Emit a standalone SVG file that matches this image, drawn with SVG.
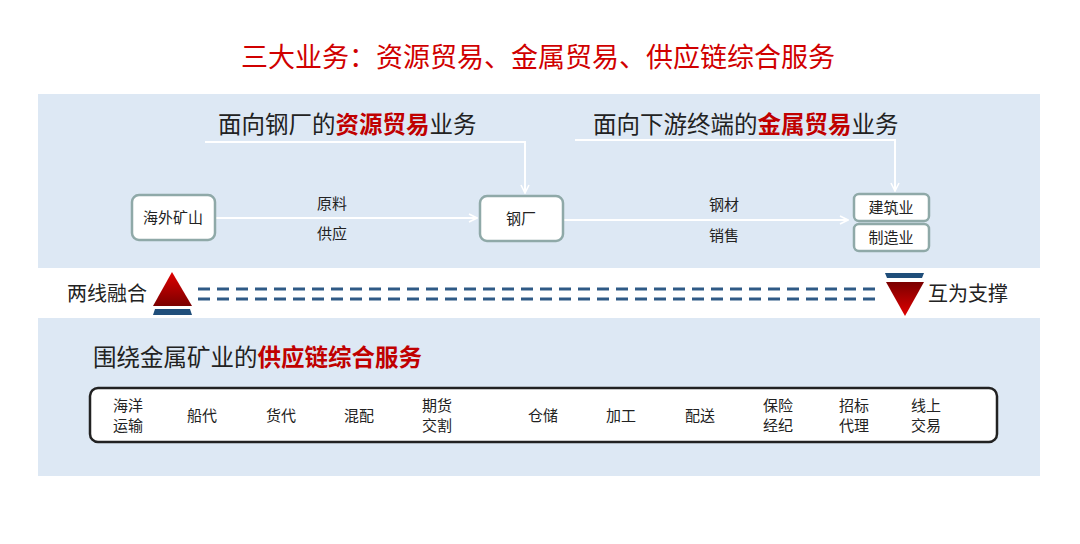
<svg xmlns="http://www.w3.org/2000/svg" width="1080" height="544" viewBox="0 0 1080 544">
<style>
text{font-family:"Liberation Sans","Noto Sans CJK SC",sans-serif;fill:#222}
.n{fill:#fff;stroke:#8fa9a8;stroke-width:2.5}
.s{font-size:15px;text-anchor:middle}
.h{font-size:23.5px}
.r{fill:#c00000;font-weight:bold}
.w{stroke:#fff;stroke-width:2;fill:none}
.d{stroke:#2f5a86;stroke-width:3;stroke-dasharray:12 7}
</style>
<defs>
<marker id="a" viewBox="0 0 10 10" refX="9" refY="5" markerWidth="10" markerHeight="10" markerUnits="userSpaceOnUse" orient="auto"><path d="M1,1L9,5L1,9" fill="none" stroke="#fff" stroke-width="1.6"/></marker>
<linearGradient id="gu" x1="0" y1="0" x2="0" y2="1"><stop offset="0" stop-color="#e00000"/><stop offset="1" stop-color="#7a0000"/></linearGradient>
<linearGradient id="gd" x1="0" y1="0" x2="0" y2="1"><stop offset="0" stop-color="#7a0000"/><stop offset="1" stop-color="#e00000"/></linearGradient>
</defs>
<rect width="1080" height="544" fill="#fff"/>
<text x="538" y="67" font-size="27" text-anchor="middle" style="fill:#d00000">三大业务：资源贸易、金属贸易、供应链综合服务</text>
<rect x="38" y="94" width="1002" height="174" fill="#dde8f4"/>
<rect x="38" y="318" width="1002" height="158" fill="#dde8f4"/>
<text x="218" y="133" class="h">面向钢厂的<tspan class="r">资源贸易</tspan>业务</text>
<text x="593" y="133" class="h">面向下游终端的<tspan class="r">金属贸易</tspan>业务</text>
<g id="connectors">
<path class="w" d="M205,142H525V193" marker-end="url(#a)"/>
<path class="w" d="M575,140H895V191" marker-end="url(#a)"/>
<path class="w" d="M216,218H477" marker-end="url(#a)"/>
<path class="w" d="M564,220H848" marker-end="url(#a)"/>
</g>
<text x="332" y="209" class="s">原料</text><text x="332" y="239" class="s">供应</text>
<text x="724" y="210" class="s">钢材</text><text x="724" y="241" class="s">销售</text>
<g id="n1"><rect class="n" x="132" y="195" width="83" height="45" rx="7"/><text x="173" y="223" class="s">海外矿山</text></g>
<g id="n2"><rect class="n" x="480" y="196" width="83" height="45" rx="7"/><text x="521" y="224" class="s">钢厂</text></g>
<g id="n3"><rect class="n" x="854" y="194" width="75" height="27" rx="5"/><text x="891" y="213" class="s">建筑业</text></g>
<g id="n4"><rect class="n" x="854" y="224" width="75" height="27" rx="5"/><text x="891" y="243" class="s">制造业</text></g>
<text x="67" y="301" font-size="20">两线融合</text>
<polygon points="172,272 192,306 153,306" fill="url(#gu)"/>
<polygon points="155,309 190,309 192,315 153,315" fill="#1f4e7a"/>
<line class="d" x1="198" y1="289" x2="880" y2="289"/>
<line class="d" x1="198" y1="299" x2="880" y2="299"/>
<polygon points="885,273 924,273 922,278 887,278" fill="#1f4e7a"/>
<polygon points="886,282 924,282 905,316" fill="url(#gd)"/>
<text x="928" y="301" font-size="20">互为支撑</text>
<text x="93" y="366" font-size="23.5">围绕金属矿业的<tspan class="r">供应链综合服务</tspan></text>
<rect x="90" y="388" width="907" height="54" rx="8" fill="#fff" stroke="#222" stroke-width="2.5"/>
<g>
<text x="128" y="411" class="s">海洋</text><text x="128" y="431" class="s">运输</text>
<text x="202" y="421" class="s">船代</text>
<text x="281" y="421" class="s">货代</text>
<text x="359" y="421" class="s">混配</text>
<text x="437" y="411" class="s">期货</text><text x="437" y="431" class="s">交割</text>
<text x="543" y="421" class="s">仓储</text>
<text x="621" y="421" class="s">加工</text>
<text x="700" y="421" class="s">配送</text>
<text x="778" y="411" class="s">保险</text><text x="778" y="431" class="s">经纪</text>
<text x="854" y="411" class="s">招标</text><text x="854" y="431" class="s">代理</text>
<text x="926" y="411" class="s">线上</text><text x="926" y="431" class="s">交易</text>
</g>
</svg>
